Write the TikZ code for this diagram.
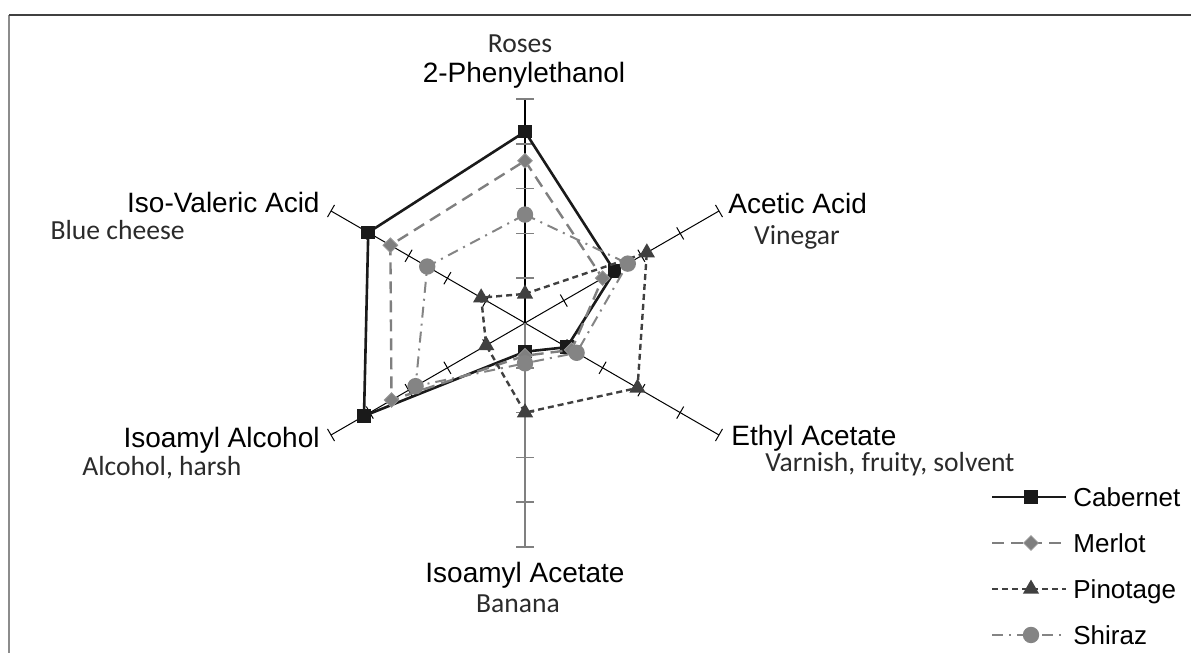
\documentclass[tikz,border=0pt]{standalone}
\usepackage{fontspec}
\setmainfont{Liberation Sans}
\newfontfamily\notefont{Carlito}
\usepackage{tikz}
\usetikzlibrary{positioning, calc, shapes.geometric}

\definecolor{cabcol}{HTML}{1A1A1A}
\definecolor{merlcol}{HTML}{7F7F7F}
\definecolor{pinocol}{HTML}{404040}
\definecolor{shircol}{HTML}{848484}
\definecolor{notecol}{HTML}{2B2B2B}

\tikzset{
    axisline/.style={black, line width=0.5pt},
    tickmark/.style={black, line width=0.5pt},
    vtick/.style={gray, line width=0.8pt},
    axislabel/.style={inner sep=0pt, font=\fontsize{14pt}{16pt}\selectfont},
    notelabel/.style={inner sep=0pt, text=notecol, font=\notefont\fontsize{13.8pt}{16pt}\selectfont},
    legtext/.style={inner sep=0pt, font=\fontsize{13pt}{15pt}\selectfont},
    cab line/.style={cabcol, line width=1.3pt},
    merl line/.style={merlcol, line width=1.2pt, dash pattern=on 6pt off 3.5pt},
    pino line/.style={pinocol, line width=1.2pt, dash pattern=on 3pt off 2pt},
    shir line/.style={shircol, line width=1pt, dash pattern=on 5.5pt off 3pt on 1pt off 3pt},
    cab mark/.style={rectangle, fill=cabcol, minimum size=6.8pt, inner sep=0pt},
    merl mark/.style={diamond, fill=merlcol, draw=merlcol!80, line width=0.4pt, minimum width=7.5pt, minimum height=7.5pt, inner sep=0pt},
    pino mark/.style={regular polygon, regular polygon sides=3, fill=pinocol, minimum size=9.4pt, inner sep=0pt},
    shir mark/.style={circle, fill=shircol, minimum size=8.2pt, inner sep=0pt}
}

\begin{document}
\begin{tikzpicture}[x=0.5pt, y=0.5pt]
    \useasboundingbox (0,0) rectangle (1191,653);
    % frame
    \draw[gray!90, line width=1pt] (9,0) -- (9,638);
    \draw[black!75, line width=0.6pt] (9,638) -- (1191,638);

    % axes
    \coordinate (c) at (525,330);
    \foreach \k in {0,...,5}
        \coordinate (ax\k) at ($(c)+(90-60*\k:224)$);
    \foreach \k in {1,2,4,5} {
        \draw[axisline] (c) -- (ax\k);
        \foreach \j in {1,...,5}
            \draw[tickmark] ($(c)+(90-60*\k:\j*44.8)+(180-60*\k:7)$) -- ($(c)+(90-60*\k:\j*44.8)+(-60*\k:7)$);
    }
    \draw[black, line width=1pt] (c) -- (ax0);
    \draw[gray, line width=1pt] (c) -- (ax3);
    \foreach \j in {1,...,5} {
        \draw[vtick] ($(c)+(-9,\j*44.8)$) -- ($(c)+(9,\j*44.8)$);
        \draw[vtick] ($(c)+(-9,-\j*44.8)$) -- ($(c)+(9,-\j*44.8)$);
    }

    % labels
    \node[notelabel, anchor=base] (roses) at (520,600) {Roses};
    \node[axislabel, anchor=base] (phen) at (524,570) {2-Phenylethanol};
    \node[axislabel, anchor=base west] (acetic) at (728,439) {Acetic Acid};
    \node[notelabel, anchor=base] (vinegar) at (797,408) {Vinegar};
    \node[axislabel, anchor=base east] (isoval) at (320,440) {Iso-Valeric Acid};
    \node[notelabel, anchor=base east] (blue) at (185,413) {Blue cheese};
    \node[axislabel, anchor=base east] (isoalc) at (320,205) {Isoamyl Alcohol};
    \node[notelabel, anchor=base west] (harsh) at (82,177) {Alcohol, harsh};
    \node[axislabel, anchor=base west] (ethyl) at (731,207) {Ethyl Acetate};
    \node[notelabel, anchor=base west] (varnish) at (765,181) {Varnish, fruity, solvent};
    \node[axislabel, anchor=base] (isoace) at (525,70) {Isoamyl Acetate};
    \node[notelabel, anchor=base] (banana) at (518,40) {Banana};

    % data
    \foreach \s/\va/\vb/\vc/\vd/\ve/\vf in {cab/4.27/2.31/1.08/0.64/4.15/4.04, merl/3.62/2.0/1.2/0.73/3.44/3.47, pino/0.65/3.14/2.9/2.0/1.0/1.13, shir/2.42/2.65/1.33/0.9/2.82/2.52} {
        \coordinate (\s0) at ($(c)+(90:\va*44.8)$);
        \coordinate (\s1) at ($(c)+(30:\vb*44.8)$);
        \coordinate (\s2) at ($(c)+(-30:\vc*44.8)$);
        \coordinate (\s3) at ($(c)+(-90:\vd*44.8)$);
        \coordinate (\s4) at ($(c)+(210:\ve*44.8)$);
        \coordinate (\s5) at ($(c)+(150:\vf*44.8)$);
        \draw[\s\space line] (\s0) -- (\s1) -- (\s2) -- (\s3) -- (\s4) -- (\s5) -- cycle;
        \foreach \k in {0,...,5}
            \node[\s\space mark] (\s m\k) at (\s\k) {};
    }

    % legend
    \foreach \s/\t/\y in {cab/Cabernet/156, merl/Merlot/110, pino/Pinotage/64, shir/Shiraz/18} {
        \coordinate (\s la) at (992,\y);
        \coordinate (\s lb) at (1066,\y);
        \draw[\s\space line] (\s la) -- (\s lb);
        \node[\s\space mark] (\s lm) at (1031,\y) {};
        \node[legtext, anchor=base west] (\s lt) at (1073,\y-9.3) {\t};
    }
\end{tikzpicture}
\end{document}
